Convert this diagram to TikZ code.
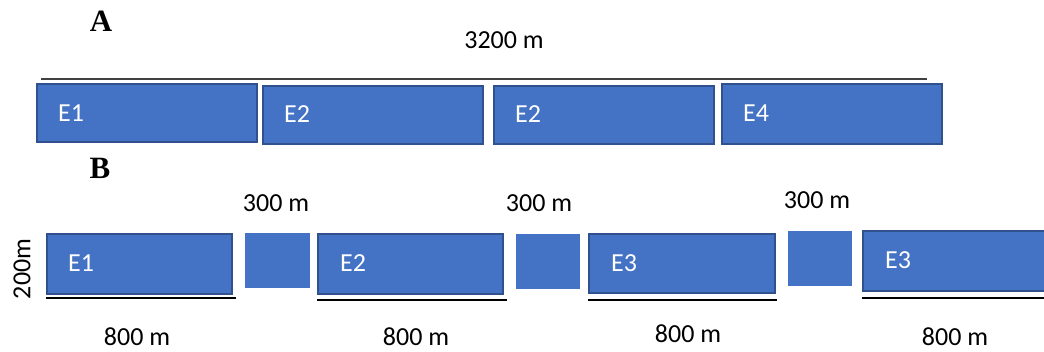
\documentclass[tikz,border=0pt]{standalone}
\usepackage{fontspec}
\setmainfont{Liberation Serif}
\newfontfamily\calfont{Carlito}
\usetikzlibrary{calc}
\definecolor{efill}{HTML}{4472C4}
\definecolor{eborder}{HTML}{2F528F}
\definecolor{rule}{HTML}{404040}
\begin{document}
\begin{tikzpicture}[x=1pt,y=-1pt,
  ebox/.style={draw=eborder,fill=efill,line width=2pt,anchor=north west,inner sep=0pt,outer sep=0pt},
  sq/.style={fill=efill,anchor=north west,inner sep=0pt,outer sep=0pt},
  elabel/.style={anchor=west,inner sep=0pt,text=white,font=\calfont\fontsize{26}{31}\selectfont},
  dim/.style={inner sep=0pt,font=\calfont\fontsize{26}{31}\selectfont},
  panel/.style={inner sep=0pt,font=\bfseries\fontsize{31}{36}\selectfont},
  uline/.style={line width=1.5pt,black},
  tline/.style={line width=1.5pt,rule}]
\useasboundingbox (0,0) rectangle (1044,351);
\fill[white] (0,0) rectangle (1044,351);
% Panel A
\node[panel] (pA) at (101,21) {A};
\node[dim] (len) at (504,40) {3200 m};
\coordinate (tl) at (41,79);
\coordinate (tr) at (927,79);
\draw[tline] (tl) -- (tr);
\node[ebox,minimum width=220pt,minimum height=58pt] (a1) at (37,84) {};
\node[ebox,minimum width=220pt,minimum height=58pt] (a2) at (263,86) {};
\node[ebox,minimum width=220pt,minimum height=58pt] (a3) at (494,86) {};
\node[ebox,minimum width=220pt,minimum height=60pt] (a4) at (722,84) {};
\node[elabel] (la1) at (58,113) {E1};
\node[elabel] (la2) at (284,114) {E2};
\node[elabel] (la3) at (515,114) {E2};
\node[elabel] (la4) at (743,113) {E4};
% Panel B
\node[panel] (pB) at (100,168) {B};
\node[dim,rotate=90] (h) at (22,269) {200m};
\node[ebox,minimum width=185pt,minimum height=60pt] (b1) at (47,234) {};
\node[sq,minimum width=65pt,minimum height=55pt] (s1) at (245,233) {};
\node[ebox,minimum width=185pt,minimum height=60pt] (b2) at (318,234) {};
\node[sq,minimum width=64pt,minimum height=55pt] (s2) at (516,234) {};
\node[ebox,minimum width=186pt,minimum height=59pt] (b3) at (589,234) {};
\node[sq,minimum width=64pt,minimum height=55pt] (s3) at (788,231) {};
\node[ebox,minimum width=190pt,minimum height=60pt] (b4) at (863,231) {};
\node[elabel] (lb1) at (68,263) {E1};
\node[elabel] (lb2) at (340,263) {E2};
\node[elabel] (lb3) at (611,263) {E3};
\node[elabel] (lb4) at (885,260) {E3};
\coordinate (u1a) at (46,298); \coordinate (u1b) at (236,298);
\coordinate (u2a) at (317,300); \coordinate (u2b) at (507,300);
\coordinate (u3a) at (588,300); \coordinate (u3b) at (777,300);
\coordinate (u4a) at (862,298); \coordinate (u4b) at (1044,298);
\draw[uline] (u1a) -- (u1b);
\draw[uline] (u2a) -- (u2b);
\draw[uline] (u3a) -- (u3b);
\draw[uline] (u4a) -- (u4b);
\node[dim] (g1) at (276,203) {300 m};
\node[dim] (g2) at (539,203) {300 m};
\node[dim] (g3) at (817,200) {300 m};
\node[dim] (d1) at (137,337) {800 m};
\node[dim] (d2) at (416,337) {800 m};
\node[dim] (d3) at (688,334) {800 m};
\node[dim] (d4) at (955,337) {800 m};
\end{tikzpicture}
\end{document}
